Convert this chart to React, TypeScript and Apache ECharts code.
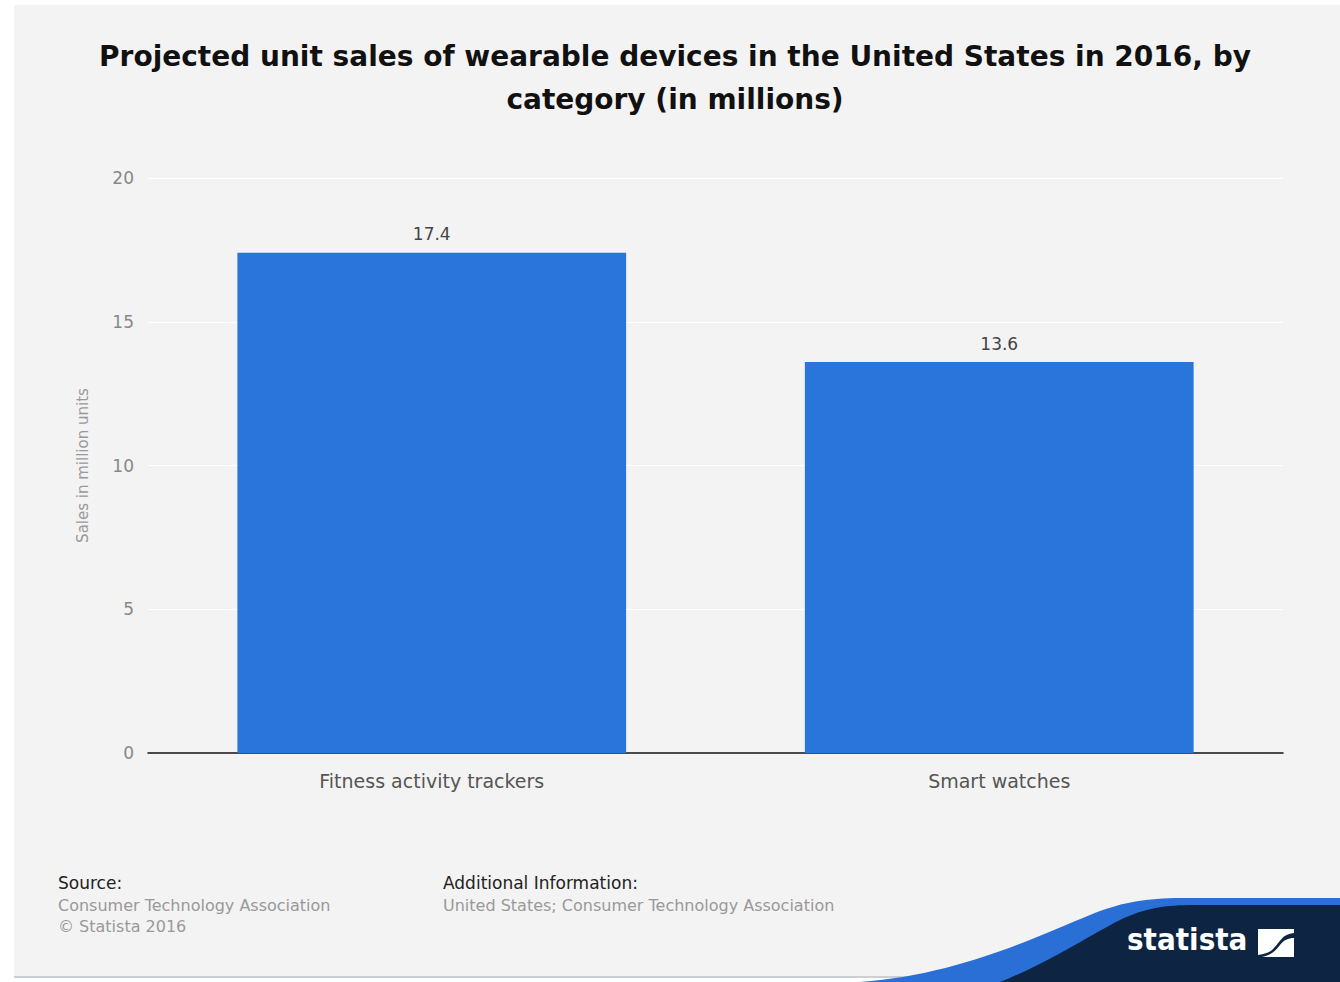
import React, { useEffect, useRef } from "react";
import * as echarts from "echarts";

const categories = ["Fitness activity trackers", "Smart watches"];
const salesValues = [17.4, 13.6];
const yTicks = [0, 5, 10, 15, 20];
const titleText = "Projected unit sales of wearable devices in the United States in 2016, by\ncategory (in millions)";
const yAxisName = "Sales in million units";
const sourceLines = ["Consumer Technology Association", "© Statista 2016"];
const additionalLines = ["United States; Consumer Technology Association"];

echarts.graphic.registerShape(
  "waveBlue",
  echarts.graphic.extendPath(
    "M 860 982 C 960 975, 1040 935, 1090 915 C 1120 903, 1140 899, 1175 898 L 1340 898 L 1340 982 Z",
    {}
  )
);
echarts.graphic.registerShape(
  "waveNavy",
  echarts.graphic.extendPath(
    "M 1000 982 C 1050 962, 1090 935, 1120 920 C 1145 908, 1165 905, 1195 905 L 1340 905 L 1340 982 Z",
    {}
  )
);
echarts.graphic.registerShape(
  "logoMark",
  echarts.graphic.extendPath(
    "M 1258 929 L 1294 929 L 1294 933 C 1282 934, 1280 942, 1274 948 C 1270 953, 1265 954, 1258 955 Z M 1294 938 L 1294 957 L 1262 957 C 1272 955, 1276 950, 1280 945 C 1284 940, 1288 938, 1294 938 Z",
    {}
  )
);

export default function App() {
  const ref = useRef<HTMLDivElement>(null);
  useEffect(() => {
    document.body.style.margin = "0";
    const chart = echarts.init(ref.current!, undefined, { renderer: "svg" });
    const font = "DejaVu Sans";
    chart.setOption({
      animation: false,
      backgroundColor: "#ffffff",
      grid: { left: 148, right: 57, top: 178, bottom: 229 },
      xAxis: {
        type: "category",
        data: categories,
        axisLine: { show: true, lineStyle: { color: "#111111", width: 1.5 } },
        axisTick: { show: false },
        axisLabel: {
          fontFamily: font,
          fontSize: 19,
          color: "#555555",
          margin: 18,
        },
      },
      yAxis: {
        type: "value",
        min: 0,
        max: 20,
        interval: 5,
        name: yAxisName,
        nameLocation: "middle",
        nameGap: 58,
        nameTextStyle: { fontFamily: font, fontSize: 15, color: "#999999" },
        axisLine: { show: false },
        axisTick: { show: false },
        axisLabel: {
          fontFamily: font,
          fontSize: 17,
          color: "#888888",
          margin: 14,
          formatter: (v: number) => (yTicks.includes(v) ? String(v) : ""),
        },
        splitLine: { show: true, lineStyle: { color: "#ffffff", width: 1 } },
      },
      series: [
        {
          type: "bar",
          data: salesValues,
          barWidth: "68.5%",
          itemStyle: { color: "#2a75dc" },
          label: {
            show: true,
            position: "top",
            distance: 10,
            fontFamily: font,
            fontSize: 17,
            color: "#444444",
            formatter: (p: any) => String(p.value),
          },
        },
      ],
      graphic: [
        {
          type: "rect",
          z: -10,
          silent: true,
          shape: { x: 14, y: 5, width: 1326, height: 973 },
          style: { fill: "#f3f3f3" },
        },
        {
          type: "rect",
          z: -9,
          silent: true,
          shape: { x: 14, y: 976, width: 1326, height: 2 },
          style: { fill: "#c9d0d8" },
        },
        {
          type: "text",
          x: 675,
          y: 35,
          style: {
            text: titleText,
            fontFamily: font,
            fontWeight: "bold",
            fontSize: 28,
            lineHeight: 43,
            fill: "#111111",
            align: "center",
            verticalAlign: "top",
          },
        },
        {
          type: "text",
          left: 58,
          top: 874,
          style: { text: "Source:", fontFamily: font, fontSize: 17, fill: "#222222" },
        },
        {
          type: "text",
          left: 58,
          top: 895,
          style: {
            text: sourceLines.join("\n"),
            fontFamily: font,
            fontSize: 16,
            lineHeight: 21,
            fill: "#999999",
          },
        },
        {
          type: "text",
          left: 443,
          top: 874,
          style: { text: "Additional Information:", fontFamily: font, fontSize: 17, fill: "#222222" },
        },
        {
          type: "text",
          left: 443,
          top: 895,
          style: {
            text: additionalLines.join("\n"),
            fontFamily: font,
            fontSize: 16,
            lineHeight: 21,
            fill: "#999999",
          },
        },
        {
          type: "waveBlue",
          x: 0,
          y: 0,
          silent: true,
          style: { fill: "#2a6fd6" },
        },
        {
          type: "waveNavy",
          x: 0,
          y: 0,
          silent: true,
          style: { fill: "#0d2442" },
        },
        {
          type: "text",
          left: 1127,
          top: 923,
          style: {
            text: "statista",
            fontFamily: "DejaVu Sans Condensed",
            fontWeight: "bold",
            fontSize: 31,
            fill: "#ffffff",
          },
        },
        {
          type: "logoMark",
          x: 0,
          y: 0,
          silent: true,
          style: { fill: "#ffffff" },
        },
      ],
    });
    return () => chart.dispose();
  }, []);
  return <div ref={ref} style={{ width: 1340, height: 982 }} />;
}
